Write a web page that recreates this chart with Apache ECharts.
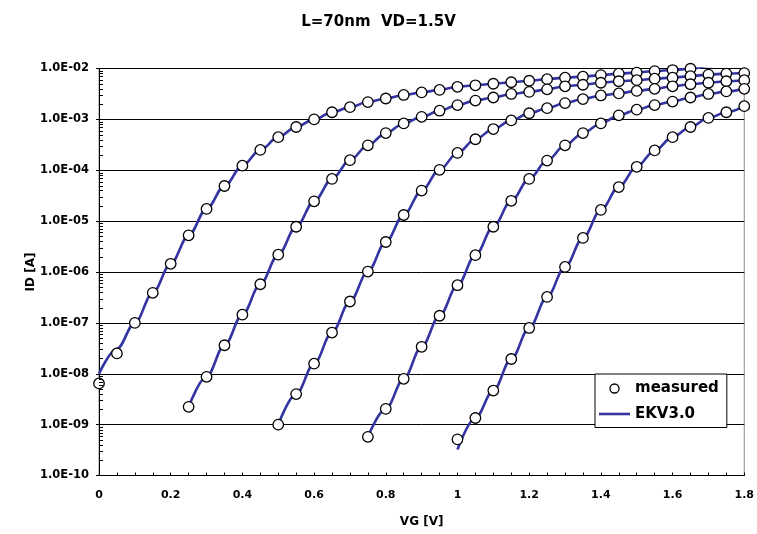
<!DOCTYPE html>
<html>
<head>
<meta charset="utf-8">
<script src="https://cdn.jsdelivr.net/npm/echarts@6/dist/echarts.min.js"></script>
<style>html,body{margin:0;padding:0;background:#fff}#c{width:757px;height:534px}</style>
</head>
<body>
<div id="c"></div>
<script>
// ---- data ----
const chartTitle = 'L=70nm  VD=1.5V';
const xName = 'VG [V]';
const yName = 'ID [A]';
const xTickLabels = ['0', '0.2', '0.4', '0.6', '0.8', '1', '1.2', '1.4', '1.6', '1.8'];
const yTickLabels = ['1.0E-10', '1.0E-09', '1.0E-08', '1.0E-07', '1.0E-06', '1.0E-05', '1.0E-04', '1.0E-03', '1.0E-02'];
const legendNames = ['measured', 'EKV3.0'];

const vg = [0, 0.05, 0.1, 0.15, 0.2, 0.25, 0.3, 0.35, 0.4, 0.45, 0.5, 0.55, 0.6, 0.65, 0.7, 0.75, 0.8, 0.85, 0.9, 0.95,
  1.0, 1.05, 1.1, 1.15, 1.2, 1.25, 1.3, 1.35, 1.4, 1.45, 1.5, 1.55, 1.6, 1.65, 1.7, 1.75, 1.8];

// measured drain current (A)
const meas1 = [6.46e-9, 2.51e-8, 1.0e-7, 3.89e-7, 1.45e-6, 5.25e-6, 1.74e-5, 4.90e-5, 1.23e-4, 2.51e-4, 4.47e-4, 7.08e-4,
  1.00e-3, 1.38e-3, 1.74e-3, 2.19e-3, 2.57e-3, 3.02e-3, 3.39e-3, 3.80e-3, 4.37e-3, 4.68e-3, 5.01e-3, 5.37e-3, 5.75e-3,
  6.17e-3, 6.61e-3, 6.92e-3, 7.41e-3, 7.94e-3, 8.32e-3, 8.91e-3, 9.33e-3, 9.89e-3, null, null, null];
const meas2 = [null, null, null, null, null, 2.24e-9, 8.71e-9, 3.63e-8, 1.45e-7, 5.75e-7, 2.19e-6, 7.76e-6, 2.45e-5,
  6.76e-5, 1.58e-4, 3.09e-4, 5.37e-4, 8.32e-4, 1.12e-3, 1.48e-3, 1.91e-3, 2.34e-3, 2.69e-3, 3.16e-3, 3.47e-3, 3.89e-3,
  4.47e-3, 4.79e-3, 5.25e-3, 5.62e-3, 5.89e-3, 6.31e-3, 6.61e-3, 7.08e-3, 7.59e-3, 7.94e-3, 8.13e-3];
const meas3 = [null, null, null, null, null, null, null, null, null, null, 1.0e-9, 3.98e-9, 1.58e-8, 6.46e-8, 2.63e-7,
  1.02e-6, 3.89e-6, 1.32e-5, 3.98e-5, 1.02e-4, 2.19e-4, 4.07e-4, 6.46e-4, 9.55e-4, 1.32e-3, 1.66e-3, 2.09e-3, 2.51e-3,
  2.95e-3, 3.24e-3, 3.63e-3, 3.98e-3, 4.47e-3, 4.90e-3, 5.25e-3, 5.62e-3, 5.89e-3];
const meas4 = [null, null, null, null, null, null, null, null, null, null, null, null, null, null, null, 5.75e-10, 2.04e-9,
  7.94e-9, 3.39e-8, 1.38e-7, 5.50e-7, 2.14e-6, 7.76e-6, 2.51e-5, 6.76e-5, 1.55e-4, 3.09e-4, 5.37e-4, 8.32e-4, 1.20e-3,
  1.55e-3, 1.91e-3, 2.24e-3, 2.69e-3, 3.16e-3, 3.55e-3, 3.98e-3];
const meas5 = [null, null, null, null, null, null, null, null, null, null, null, null, null, null, null, null, null, null,
  null, null, 5.13e-10, 1.35e-9, 4.68e-9, 1.95e-8, 7.94e-8, 3.24e-7, 1.26e-6, 4.68e-6, 1.66e-5, 4.68e-5, 1.17e-4,
  2.45e-4, 4.47e-4, 7.08e-4, 1.07e-3, 1.38e-3, 1.82e-3];

// EKV3.0 model drain current (A)
const model1 = [1.0e-8, 3.09e-8, 1.0e-7, 3.89e-7, 1.45e-6, 5.25e-6, 1.74e-5, 4.90e-5, 1.23e-4, 2.51e-4, 4.47e-4, 7.08e-4,
  1.00e-3, 1.38e-3, 1.74e-3, 2.19e-3, 2.57e-3, 3.02e-3, 3.39e-3, 3.80e-3, 4.37e-3, 4.68e-3, 5.01e-3, 5.37e-3, 5.75e-3,
  6.17e-3, 6.61e-3, 6.92e-3, 7.41e-3, 7.94e-3, 8.32e-3, 8.91e-3, 9.33e-3, 9.89e-3, 1.12e-2, 1.22e-2, 1.32e-2];
const model2 = [null, null, null, null, null, 2.24e-9, 8.71e-9, 3.63e-8, 1.45e-7, 5.75e-7, 2.19e-6, 7.76e-6, 2.45e-5,
  6.76e-5, 1.58e-4, 3.09e-4, 5.37e-4, 8.32e-4, 1.12e-3, 1.48e-3, 1.91e-3, 2.34e-3, 2.69e-3, 3.16e-3, 3.47e-3, 3.89e-3,
  4.47e-3, 4.79e-3, 5.25e-3, 5.62e-3, 5.89e-3, 6.31e-3, 6.61e-3, 7.08e-3, 7.59e-3, 7.94e-3, 8.13e-3];
const model3 = [null, null, null, null, null, null, null, null, null, null, 1.0e-9, 3.98e-9, 1.58e-8, 6.46e-8, 2.63e-7,
  1.02e-6, 3.89e-6, 1.32e-5, 3.98e-5, 1.02e-4, 2.19e-4, 4.07e-4, 6.46e-4, 9.55e-4, 1.32e-3, 1.66e-3, 2.09e-3, 2.51e-3,
  2.95e-3, 3.24e-3, 3.63e-3, 3.98e-3, 4.47e-3, 4.90e-3, 5.25e-3, 5.62e-3, 5.89e-3];
const model4 = [null, null, null, null, null, null, null, null, null, null, null, null, null, null, null, 5.75e-10, 2.04e-9,
  7.94e-9, 3.39e-8, 1.38e-7, 5.50e-7, 2.14e-6, 7.76e-6, 2.51e-5, 6.76e-5, 1.55e-4, 3.09e-4, 5.37e-4, 8.32e-4, 1.20e-3,
  1.55e-3, 1.91e-3, 2.24e-3, 2.69e-3, 3.16e-3, 3.55e-3, 3.98e-3];
const model5 = [null, null, null, null, null, null, null, null, null, null, null, null, null, null, null, null, null, null,
  null, null, 3.24e-10, 1.35e-9, 4.68e-9, 1.95e-8, 7.94e-8, 3.24e-7, 1.26e-6, 4.68e-6, 1.66e-5, 4.68e-5, 1.17e-4,
  2.45e-4, 4.47e-4, 7.08e-4, 1.07e-3, 1.38e-3, 1.82e-3];

const measuredSets = [meas1, meas2, meas3, meas4, meas5];
const modelSets = [model1, model2, model3, model4, model5];

// ---- chart ----
const FONT = 'DejaVu Sans';
const LINE_COLOR = '#3434a2';

function pairs(arr) {
  const out = [];
  arr.forEach((v, i) => { if (v !== null) out.push([vg[i], v]); });
  return out;
}

// log minor tick positions (axis decoration)
const minorTickVals = [];
for (let d = -10; d < -2; d++) {
  for (let k = 2; k <= 9; k++) minorTickVals.push([0, k * Math.pow(10, d)]);
}

const series = [];
modelSets.forEach((arr) => {
  series.push({
    name: legendNames[1], type: 'line', data: pairs(arr), symbol: 'none',
    smooth: 0.35, smoothMonotone: 'x',
    lineStyle: { color: LINE_COLOR, width: 2.6 }, itemStyle: { color: LINE_COLOR },
    z: 3, clip: true, animation: false
  });
});
measuredSets.forEach((arr) => {
  series.push({
    name: legendNames[0], type: 'scatter', data: pairs(arr), symbol: 'circle', symbolSize: 10.5,
    itemStyle: { color: '#ffffff', borderColor: '#000000', borderWidth: 1.3, opacity: 1 },
    z: 5, clip: true, animation: false
  });
});
series.push({
  type: 'custom', data: minorTickVals, silent: true, z: 6, animation: false,
  encode: { x: 0, y: 1 },
  renderItem: function (params, api) {
    const p = api.coord([0, api.value(1)]);
    const y = Math.round(p[1]) + 0.5;
    return { type: 'line', shape: { x1: p[0], y1: y, x2: p[0] + 4, y2: y }, style: { stroke: '#000', lineWidth: 1 } };
  }
});

const chart = echarts.init(document.getElementById('c'), null, { renderer: 'canvas' });
chart.setOption({
  backgroundColor: '#ffffff',
  animation: false,
  title: {
    text: chartTitle, left: 'center', top: 10,
    textStyle: { fontFamily: FONT, fontWeight: 'bold', fontSize: 15, color: '#000' }
  },
  grid: {
    left: 99, right: 8.5, top: 68.5, bottom: 58.5, show: true,
    borderColor: '#8a8a8a', borderWidth: 1, backgroundColor: 'transparent'
  },
  legend: {
    data: [{ name: legendNames[0], icon: 'circle', itemStyle: { color: '#fff', borderColor: '#000', borderWidth: 1.3 } },
           { name: legendNames[1], icon: 'path://M0,0H31V2.6H0Z', itemStyle: { color: LINE_COLOR, borderWidth: 0 } }],
    orient: 'vertical', left: 595, top: 374,
    itemWidth: 31, itemHeight: 9, itemGap: 10.5,
    padding: [7, 8, 6, 4],
    backgroundColor: '#fff', borderColor: '#000', borderWidth: 1, borderRadius: 0,
    textStyle: { fontFamily: FONT, fontWeight: 'bold', fontSize: 15, color: '#000' },
    selectedMode: false
  },
  xAxis: {
    type: 'value', min: 0, max: 1.8, interval: 0.05,
    name: xName, nameLocation: 'middle', nameGap: 40, nameMoveOverlap: false,
    nameTextStyle: { fontFamily: FONT, fontWeight: 'bold', fontSize: 12, color: '#000' },
    axisLine: { show: true, onZero: false, lineStyle: { color: '#000', width: 1 } },
    axisTick: { show: true, inside: true, length: 3, lineStyle: { color: '#000' } },
    splitLine: { show: false },
    axisLabel: {
      margin: 14, fontFamily: FONT, fontWeight: 'bold', fontSize: 11, color: '#000',
      formatter: function (v) {
        const i = Math.round(v / 0.05);
        return i % 4 === 0 ? xTickLabels[i / 4] : '';
      }
    }
  },
  yAxis: {
    type: 'log', logBase: 10, min: 1e-10, max: 1e-2,
    name: yName, nameLocation: 'middle', nameGap: 62, nameRotate: 90, nameMoveOverlap: false,
    nameTextStyle: { fontFamily: FONT, fontWeight: 'bold', fontSize: 12, color: '#000' },
    axisLine: { show: true, lineStyle: { color: '#000', width: 1 } },
    axisTick: { show: true, inside: false, length: 3, lineStyle: { color: '#000' } },
    splitLine: { show: true, lineStyle: { color: '#000', width: 1 } },
    axisLabel: {
      margin: 10, fontFamily: FONT, fontWeight: 'bold', fontSize: 11.5, color: '#000',
      formatter: function (v) { return yTickLabels[Math.round(Math.log10(v)) + 10]; }
    }
  },
  series: series
});
</script>
</body>
</html>
